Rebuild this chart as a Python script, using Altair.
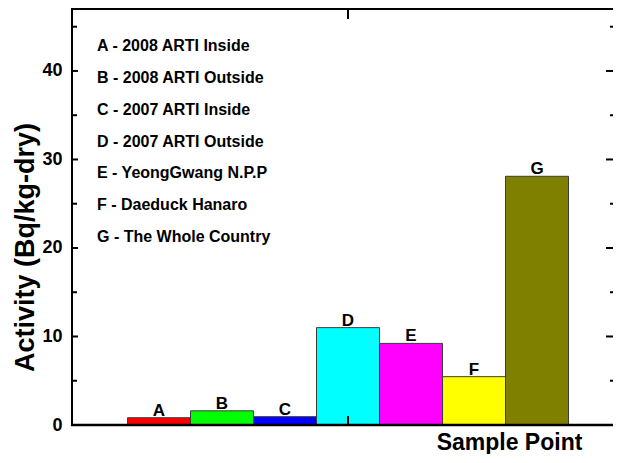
import altair as alt
import pandas as pd

# ---- data ----
labels = ["A", "B", "C", "D", "E", "F", "G"]
positions = [1, 2, 3, 4, 5, 6, 7]
values = [0.82, 1.6, 0.94, 11.0, 9.22, 5.46, 28.1]
colors = ["#FF0000", "#00FF00", "#0000FF", "#00FFFF", "#FF00FF", "#FFFF00", "#808000"]
legend_lines = [
    "A - 2008 ARTI Inside",
    "B - 2008 ARTI Outside",
    "C - 2007 ARTI Inside",
    "D - 2007 ARTI Outside",
    "E - YeongGwang N.P.P",
    "F - Daeduck Hanaro",
    "G - The Whole Country",
]
y_labels = [0, 10, 20, 30, 40]
y_major = [10, 20, 30, 40]
y_minor = [5, 15, 25, 35, 45]
x_ticks = [4]

W, H = 541, 416
FONT = "Liberation Sans"

df = pd.DataFrame({"label": labels, "pos": positions, "value": values})
df["lo"] = df["pos"] - 0.5
df["hi"] = df["pos"] + 0.5
major_df = pd.DataFrame({"v": y_major})
minor_df = pd.DataFrame({"v": y_minor})
xt_df = pd.DataFrame({"v": x_ticks})
leg_df = pd.DataFrame({"i": list(range(len(legend_lines))), "t": legend_lines})

xscale = alt.Scale(domain=[-0.381, 8.206], nice=False, zero=False)
yscale = alt.Scale(domain=[0, 47], nice=False, zero=True)

bars = alt.Chart(df).mark_bar(stroke="#3a3a3a", strokeWidth=1).encode(
    x=alt.X("lo:Q", scale=xscale,
            axis=alt.Axis(title="Sample Point", labels=False, ticks=False, domain=False,
                          titleX=437, titleY=24, titleAlign="center", titleBaseline="alphabetic",
                          titleFontSize=23, titleFont=FONT, titleFontWeight="bold")),
    x2="hi",
    y=alt.Y("value:Q", scale=yscale,
            axis=alt.Axis(title="Activity (Bq/kg-dry)", values=y_labels, ticks=False, tickSize=0,
                          domain=False, labelPadding=10, labelFontSize=18, labelFont=FONT,
                          labelFontWeight="bold", titleX=-39, titleY=238, titleAngle=270,
                          titleAlign="center", titleBaseline="alphabetic", titleFontSize=27,
                          titleFont=FONT, titleFontWeight="bold")),
    y2=alt.datum(0),
    color=alt.Color("label:N", scale=alt.Scale(domain=labels, range=colors), legend=None),
)

bar_text = alt.Chart(df).mark_text(dy=-2, baseline="alphabetic", fontSize=17, fontWeight="bold",
                                   font=FONT, color="black").encode(
    x=alt.X("pos:Q", scale=xscale), y=alt.Y("value:Q", scale=yscale), text="label:N")

tick_style = dict(color="black", strokeWidth=2)
left_major = alt.Chart(major_df).mark_rule(**tick_style).encode(
    y=alt.Y("v:Q", scale=yscale), x=alt.value(0), x2=alt.value(6))
left_minor = alt.Chart(minor_df).mark_rule(**tick_style).encode(
    y=alt.Y("v:Q", scale=yscale), x=alt.value(0), x2=alt.value(5))
right_major = alt.Chart(major_df).mark_rule(**tick_style).encode(
    y=alt.Y("v:Q", scale=yscale), x=alt.value(W), x2=alt.value(W - 7))
right_minor = alt.Chart(minor_df).mark_rule(**tick_style).encode(
    y=alt.Y("v:Q", scale=yscale), x=alt.value(W), x2=alt.value(W - 3))
bottom_tick = alt.Chart(xt_df).mark_rule(**tick_style).encode(
    x=alt.X("v:Q", scale=xscale), y=alt.value(H), y2=alt.value(H - 9))
top_tick = alt.Chart(xt_df).mark_rule(**tick_style).encode(
    x=alt.X("v:Q", scale=xscale), y=alt.value(0), y2=alt.value(10))

# plot frame (top, left, bottom); the right side lies beyond the picture in the reference
frame_top = alt.Chart(xt_df).mark_rule(color="black", strokeWidth=2).encode(
    x=alt.value(-1), x2=alt.value(W), y=alt.value(0))
frame_left = alt.Chart(xt_df).mark_rule(color="black", strokeWidth=2).encode(
    x=alt.value(0), y=alt.value(-1), y2=alt.value(H + 1))
frame_bottom = alt.Chart(xt_df).mark_rule(color="black", strokeWidth=2.5).encode(
    x=alt.value(-1), x2=alt.value(W), y=alt.value(H))

main = alt.layer(bars, bar_text, left_major, left_minor, right_major, right_minor,
                 bottom_tick, top_tick, frame_top, frame_left, frame_bottom)

legend = alt.Chart(leg_df).mark_text(align="left", baseline="middle", fontSize=16,
                                     fontWeight="bold", font=FONT, color="black").encode(
    x=alt.value(25),
    y=alt.Y("i:O", scale=alt.Scale(type="point", range=[37, 228], padding=0), axis=None),
    text="t:N",
)

chart = alt.layer(main, legend).resolve_scale(y="independent").properties(
    width=W, height=H,
    autosize=alt.AutoSizeParams(type="none"),
    padding={"left": 64, "top": 1, "right": 0, "bottom": 29},
).configure_view(stroke=None).configure_axis(
    grid=False, labelColor="black", titleColor="black"
)

chart.save("out.html", embed_options={"renderer": "svg", "actions": False})
